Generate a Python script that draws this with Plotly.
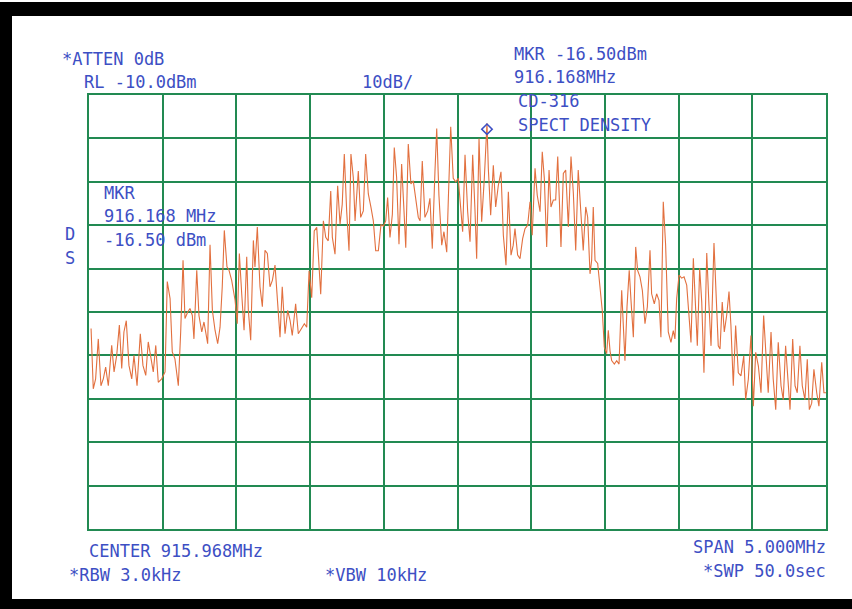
import plotly.graph_objects as go

# ---- data (MHz, dBm) ----
FREQ_MHZ = [
    913.482, 913.497, 913.513, 913.531, 913.549, 913.565, 913.581, 913.599, 913.622, 913.638,
    913.656, 913.674, 913.690, 913.705, 913.721, 913.739, 913.758, 913.773, 913.794, 913.816,
    913.834, 913.853, 913.870, 913.887, 913.904, 913.921, 913.938, 913.961, 913.984, 913.999,
    914.018, 914.033, 914.051, 914.074, 914.090, 914.106, 914.119, 914.138, 914.153, 914.169,
    914.180, 914.199, 914.214, 914.233, 914.248, 914.273, 914.289, 914.305, 914.323, 914.341,
    914.357, 914.372, 914.386, 914.404, 914.418, 914.436, 914.459, 914.474, 914.488, 914.504,
    914.520, 914.538, 914.549, 914.565, 914.583, 914.594, 914.610, 914.628, 914.644, 914.662,
    914.678, 914.696, 914.712, 914.730, 914.748, 914.764, 914.779, 914.798, 914.816, 914.832,
    914.847, 914.870, 914.888, 914.911, 914.929, 914.945, 914.961, 914.979, 914.996, 915.013,
    915.024, 915.040, 915.058, 915.074, 915.091, 915.108, 915.119, 915.137, 915.155, 915.171,
    915.186, 915.200, 915.216, 915.232, 915.245, 915.261, 915.273, 915.295, 915.311, 915.329,
    915.345, 915.363, 915.381, 915.397, 915.413, 915.431, 915.449, 915.465, 915.481, 915.494,
    915.510, 915.526, 915.539, 915.555, 915.571, 915.589, 915.605, 915.617, 915.634, 915.652,
    915.668, 915.684, 915.702, 915.714, 915.729, 915.747, 915.766, 915.781, 915.797, 915.815,
    915.827, 915.842, 915.861, 915.876, 915.895, 915.906, 915.922, 915.939, 915.956, 915.973,
    915.992, 916.003, 916.019, 916.037, 916.053, 916.071, 916.087, 916.098, 916.114, 916.132,
    916.150, 916.168, 916.177, 916.193, 916.211, 916.227, 916.245, 916.263, 916.279, 916.297,
    916.313, 916.331, 916.346, 916.358, 916.376, 916.392, 916.410, 916.426, 916.444, 916.460,
    916.475, 916.494, 916.509, 916.528, 916.543, 916.557, 916.573, 916.589, 916.602, 916.618,
    916.634, 916.648, 916.659, 916.670, 916.686, 916.702, 916.720, 916.738, 916.754, 916.770,
    916.787, 916.806, 916.821, 916.838, 916.851, 916.867, 916.878, 916.889, 916.901, 916.919,
    916.935, 916.950, 916.964, 916.980, 916.991, 917.003, 917.014, 917.032, 917.048, 917.064,
    917.082, 917.093, 917.104, 917.118, 917.133, 917.145, 917.161, 917.177, 917.190, 917.206,
    917.222, 917.240, 917.256, 917.274, 917.285, 917.303, 917.319, 917.335, 917.348, 917.364,
    917.380, 917.398, 917.416, 917.432, 917.443, 917.455, 917.471, 917.489, 917.505, 917.523,
    917.538, 917.552, 917.568, 917.584, 917.595, 917.611, 917.625, 917.640, 917.659, 917.674,
    917.688, 917.708, 917.722, 917.737, 917.749, 917.764, 917.778, 917.794, 917.810, 917.823,
    917.839, 917.855, 917.873, 917.891, 917.910, 917.923, 917.941, 917.959, 917.975, 917.991,
    918.009, 918.027, 918.045, 918.061, 918.076, 918.095, 918.110, 918.127, 918.144, 918.163,
    918.178, 918.194, 918.208, 918.224, 918.242, 918.258, 918.273, 918.291, 918.307, 918.325,
    918.341, 918.355, 918.371, 918.386, 918.405, 918.420, 918.439, 918.454, 918.468,
]

LEVEL_DBM = [
    -63.8, -77.7, -75.4, -66.2, -77.0, -75.4, -72.7, -77.0, -67.7, -73.8,
    -70.0, -63.0, -73.0, -64.6, -62.0, -72.3, -75.4, -70.0, -77.0, -65.0,
    -72.3, -74.6, -66.9, -70.8, -73.8, -67.7, -76.2, -75.4, -73.8, -53.0,
    -56.9, -69.2, -70.8, -77.0, -64.6, -48.1, -61.5, -60.0, -59.2, -60.8,
    -66.2, -50.4, -60.8, -64.6, -62.3, -67.3, -44.5, -59.6, -64.2, -67.3,
    -63.5, -54.2, -41.2, -49.6, -50.4, -52.7, -57.3, -62.7, -46.5, -55.8,
    -64.2, -47.3, -59.6, -66.5, -43.5, -49.6, -40.4, -54.2, -58.8, -45.8,
    -46.5, -54.2, -52.7, -49.2, -58.8, -65.8, -54.2, -65.0, -59.6, -61.9,
    -65.4, -58.1, -65.0, -63.5, -62.7, -63.5, -50.5, -56.7, -41.3, -40.5,
    -47.5, -55.9, -39.0, -42.8, -43.6, -32.1, -42.8, -46.7, -30.9, -39.8,
    -35.2, -23.6, -36.7, -45.9, -23.6, -29.0, -39.0, -27.5, -38.2, -36.7,
    -23.6, -32.8, -35.9, -39.0, -45.9, -45.9, -39.8, -40.2, -39.0, -33.6,
    -42.8, -37.5, -22.1, -29.0, -44.4, -25.9, -36.7, -45.2, -21.3, -30.5,
    -29.8, -33.6, -38.2, -39.0, -25.2, -38.2, -36.7, -33.8, -45.4, -27.7,
    -17.7, -33.1, -44.6, -41.5, -46.2, -33.8, -17.3, -29.2, -30.0, -29.2,
    -37.7, -41.5, -23.8, -36.9, -43.8, -23.8, -36.9, -47.7, -20.0, -39.2,
    -29.2, -16.5, -26.9, -37.7, -26.2, -35.8, -30.8, -27.7, -42.3, -49.2,
    -32.3, -46.9, -44.6, -40.8, -46.9, -47.7, -43.1, -40.8, -40.0, -34.6,
    -42.3, -26.9, -33.1, -36.9, -23.1, -29.2, -45.0, -27.3, -35.8, -34.2,
    -34.2, -24.2, -34.2, -45.0, -28.1, -27.3, -40.4, -24.2, -32.7, -45.8,
    -27.3, -37.3, -45.8, -35.8, -38.1, -51.2, -48.1, -35.8, -48.1, -48.8,
    -54.2, -59.6, -68.1, -69.6, -64.2, -69.0, -71.2, -72.0, -71.2, -72.0,
    -55.0, -61.9, -71.2, -58.8, -50.4, -57.3, -65.8, -45.0, -50.4, -51.9,
    -55.0, -62.7, -58.8, -45.8, -55.8, -58.1, -55.8, -57.3, -65.8, -34.6,
    -44.6, -64.6, -67.0, -64.3, -66.2, -56.9, -51.5, -52.2, -51.9, -53.8,
    -60.8, -67.0, -47.6, -60.8, -67.8, -49.9, -57.7, -74.0, -46.4, -58.4,
    -67.8, -44.1, -56.9, -67.8, -68.5, -57.7, -64.6, -60.8, -55.3, -63.1,
    -77.0, -63.1, -74.0, -74.7, -70.1, -80.2, -75.5, -65.4, -81.7, -69.3,
    -72.4, -78.6, -60.8, -71.6, -78.6, -64.6, -75.5, -82.5, -67.0, -77.0,
    -80.2, -67.8, -75.5, -82.5, -66.2, -77.0, -78.6, -67.8, -77.0, -80.2,
    -70.9, -82.5, -81.0, -73.2, -78.6, -81.7, -71.6, -78.6, -78.6,
]

CENTER_MHZ = 915.968
SPAN_MHZ = 5.0
REF_LEVEL_DBM = -10.0
DB_PER_DIV = 10.0
N_YDIV = 10
MKR_FREQ = 916.168
MKR_DBM = -16.50

TOP_LABELS = ["*ATTEN 0dB", "RL -10.0dBm", "10dB/", "MKR -16.50dBm", "916.168MHz",
              "CD-316", "SPECT DENSITY"]
MKR_LABELS = ["MKR", "916.168 MHz", "-16.50 dBm"]
SIDE_LABELS = ["D", "S"]
BOTTOM_LABELS = ["CENTER 915.968MHz", "*RBW 3.0kHz", "*VBW 10kHz",
                 "SPAN 5.000MHz", "*SWP 50.0sec"]

# ---- styling ----
W, H = 852, 609
PL, PR, PT, PB = 89, 826, 95, 529  # plot box in pixels
GRID = "#228a52"
TRACE = "#e2703f"
INK = "#3d4fc4"
FONT = "DejaVu Sans Mono"


def px(x):
    return (x - PL) / (PR - PL)


def py(y):
    return (PB - y) / (PB - PT)


fig = go.Figure()
fig.add_trace(go.Scatter(
    x=FREQ_MHZ, y=LEVEL_DBM, mode="lines",
    line=dict(color=TRACE, width=1.1), hoverinfo="skip", showlegend=False,
))
fig.add_trace(go.Scatter(
    x=[MKR_FREQ], y=[MKR_DBM], mode="markers",
    marker=dict(symbol="diamond-open", size=8, color=INK,
                line=dict(width=1.6, color=INK), standoff=6, angle=0),
    hoverinfo="skip", showlegend=False,
))

f0 = CENTER_MHZ - SPAN_MHZ / 2
f1 = CENTER_MHZ + SPAN_MHZ / 2
ybot = REF_LEVEL_DBM - DB_PER_DIV * N_YDIV

fig.update_xaxes(range=[f0, f1], tick0=f0, dtick=SPAN_MHZ / 10, showticklabels=False,
                 ticks="", showgrid=True, gridcolor=GRID, gridwidth=1.5, zeroline=False,
                 showline=True, linecolor=GRID, linewidth=1.5, mirror=True)
fig.update_yaxes(range=[ybot, REF_LEVEL_DBM], tick0=ybot, dtick=DB_PER_DIV,
                 showticklabels=False, ticks="", showgrid=True, gridcolor=GRID,
                 gridwidth=1.5, zeroline=False, showline=True, linecolor=GRID,
                 linewidth=1.5, mirror=True)

# black frame of the photographed sheet
shapes = [
    dict(type="rect", xref="paper", yref="paper", x0=px(0), x1=px(W), y0=py(16), y1=py(2),
         fillcolor="black", line=dict(width=0), layer="above"),
    dict(type="rect", xref="paper", yref="paper", x0=px(0), x1=px(12), y0=py(H), y1=py(2),
         fillcolor="black", line=dict(width=0), layer="above"),
    dict(type="rect", xref="paper", yref="paper", x0=px(0), x1=px(W), y0=py(H), y1=py(599),
         fillcolor="black", line=dict(width=0), layer="above"),
]

# label anchors in pixels: (x, y, anchor)
positions = {
    "*ATTEN 0dB": (60, 59, "left"), "RL -10.0dBm": (82, 82, "left"),
    "10dB/": (360, 82, "left"),
    "MKR -16.50dBm": (512, 54, "left"), "916.168MHz": (512, 77, "left"),
    "CD-316": (516, 101, "left"), "SPECT DENSITY": (516, 125, "left"),
    "MKR": (102, 193, "left"), "916.168 MHz": (102, 216, "left"),
    "-16.50 dBm": (102, 240, "left"),
    "D": (63, 234, "left"), "S": (63, 258, "left"),
    "CENTER 915.968MHz": (87, 551, "left"), "*RBW 3.0kHz": (67, 575, "left"),
    "*VBW 10kHz": (323, 575, "left"),
    "SPAN 5.000MHz": (828, 547, "right"), "*SWP 50.0sec": (828, 571, "right"),
}
annotations = []
for label in TOP_LABELS + MKR_LABELS + SIDE_LABELS + BOTTOM_LABELS:
    ax_, ay_, anc = positions[label]
    annotations.append(dict(
        text=label, x=px(ax_), y=py(ay_), xref="paper", yref="paper",
        xanchor=anc, yanchor="middle", showarrow=False,
        font=dict(family=FONT, size=17, color=INK),
    ))

fig.update_layout(
    width=W, height=H, margin=dict(l=PL, r=W - PR, t=PT, b=H - PB),
    paper_bgcolor="white", plot_bgcolor="white",
    shapes=shapes, annotations=annotations, showlegend=False,
)

fig.write_html("out.html")
